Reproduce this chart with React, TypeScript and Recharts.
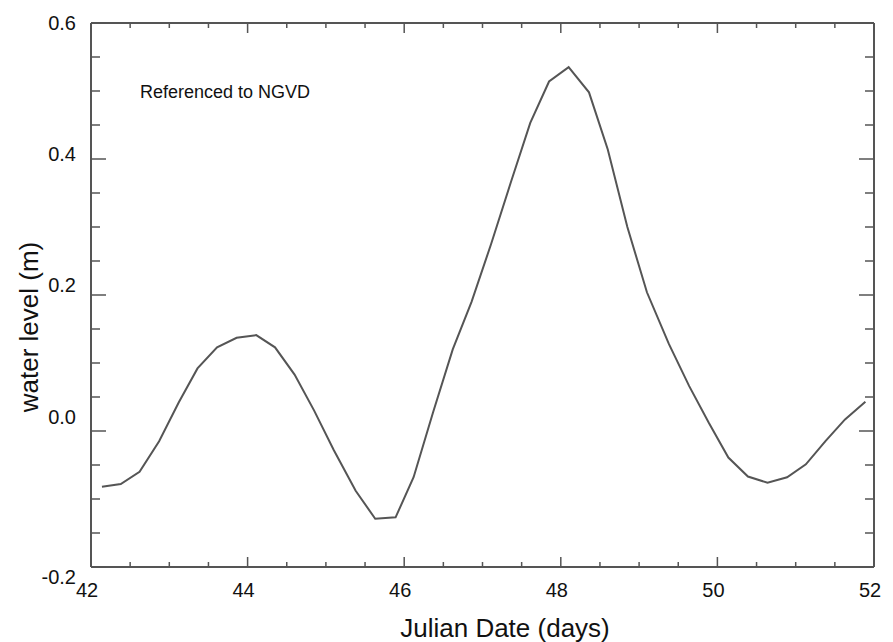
import { LineChart, Line, XAxis, YAxis, Customized } from 'recharts';

// Julian date (days) and water level (m)
const days = [
  42.14, 42.38, 42.62, 42.87, 43.12, 43.36, 43.61, 43.86, 44.11, 44.35,
  44.6, 44.85, 45.1, 45.38, 45.63, 45.89, 46.12, 46.37, 46.62, 46.86,
  47.11, 47.36, 47.61, 47.85, 48.1, 48.36, 48.6, 48.85, 49.1, 49.38,
  49.64, 49.89, 50.14, 50.39, 50.64, 50.89, 51.13, 51.38, 51.63, 51.89,
];
const waterLevel = [
  -0.082, -0.078, -0.06, -0.015, 0.042, 0.092, 0.123, 0.137, 0.141, 0.123,
  0.083, 0.03, -0.028, -0.088, -0.129, -0.127, -0.068, 0.028, 0.12, 0.19,
  0.275, 0.365, 0.453, 0.514, 0.535, 0.498, 0.414, 0.3, 0.204, 0.128,
  0.066, 0.012, -0.039, -0.067, -0.076, -0.068, -0.049, -0.015, 0.017, 0.043,
];

const xTicks = [
  42, 42.5, 43, 43.5, 44, 44.5, 45, 45.5, 46, 46.5, 47,
  47.5, 48, 48.5, 49, 49.5, 50, 50.5, 51, 51.5, 52,
];
const xLabels = [42, 44, 46, 48, 50, 52];
const yTicks = [
  -0.2, -0.15, -0.1, -0.05, 0, 0.05, 0.1, 0.15, 0.2,
  0.25, 0.3, 0.35, 0.4, 0.45, 0.5, 0.55, 0.6,
];
const yLabels = [-0.2, 0, 0.2, 0.4, 0.6];

const data = days.map((d, i) => ({ day: d, level: waterLevel[i] }));

const ink = '#555';
const font = '"Liberation Sans", Arial, Helvetica, sans-serif';
const isMajor = (v: number, list: number[]) => list.some((l) => Math.abs(l - v) < 1e-6);

function BottomTick(props: any) {
  const { x, y, payload } = props;
  const major = isMajor(payload.value, xLabels);
  return (
    <g>
      <line x1={x} x2={x} y1={y} y2={y - (major ? 10 : 5)} stroke={ink} strokeWidth={1.5} />
      {major && (
        <text x={x - 4} y={y + 30} textAnchor="middle" fontSize={20} fontFamily={font} fill="#111">
          {payload.value}
        </text>
      )}
    </g>
  );
}

function TopTick(props: any) {
  const { x, y, payload } = props;
  const major = isMajor(payload.value, xLabels);
  return <line x1={x} x2={x} y1={y} y2={y + (major ? 10 : 5)} stroke={ink} strokeWidth={1.5} />;
}

function LeftTick(props: any) {
  const { x, y, payload } = props;
  const v = payload.value;
  const major = isMajor(v, yLabels);
  // the scanned labels sit slightly off their ticks; -0.2 is pushed down clear of "42"
  const shift = v < -0.1 ? 10 : -(0.6 - v) * 24;
  return (
    <g>
      <line x1={x} x2={x + (major ? 15 : 9)} y1={y} y2={y} stroke={ink} strokeWidth={1.5} />
      {major && (
        <text x={76} y={y + shift + 7} textAnchor="end" fontSize={20} fontFamily={font} fill="#111">
          {v.toFixed(1)}
        </text>
      )}
    </g>
  );
}

function RightTick(props: any) {
  const { x, y, payload } = props;
  const major = isMajor(payload.value, yLabels);
  return <line x1={x} x2={x - (major ? 15 : 9)} y1={y} y2={y} stroke={ink} strokeWidth={1.5} />;
}

function Titles() {
  return (
    <g fontFamily={font} fill="#111">
      <text x={505} y={637} textAnchor="middle" fontSize={26}>
        Julian Date (days)
      </text>
      <text x={38} y={327} textAnchor="middle" fontSize={26} transform="rotate(-90, 38, 327)">
        water level (m)
      </text>
      <text x={140} y={98} fontSize={18}>
        Referenced to NGVD
      </text>
    </g>
  );
}

export default function App() {
  return (
    <div style={{ position: 'absolute', left: 0, top: 0, width: 893, height: 642, background: '#fff' }}>
      <LineChart width={893} height={642} data={data} margin={{ top: 22, right: 18, bottom: 0, left: 0 }}>
        <XAxis
          dataKey="day"
          type="number"
          domain={[42, 52]}
          ticks={xTicks}
          interval={0}
          allowDataOverflow
          height={75}
          tickSize={0}
          tickMargin={0}
          tick={<BottomTick />}
          axisLine={{ stroke: ink, strokeWidth: 2 }}
          tickLine={false}
        />
        <XAxis
          xAxisId="top"
          orientation="top"
          dataKey="day"
          type="number"
          domain={[42, 52]}
          ticks={xTicks}
          interval={0}
          allowDataOverflow
          height={1}
          tickSize={0}
          tickMargin={0}
          tick={<TopTick />}
          axisLine={{ stroke: ink, strokeWidth: 2 }}
          tickLine={false}
        />
        <YAxis
          type="number"
          domain={[-0.2, 0.6]}
          ticks={yTicks}
          interval={0}
          allowDataOverflow
          width={91}
          tickSize={0}
          tickMargin={0}
          tick={<LeftTick />}
          axisLine={{ stroke: ink, strokeWidth: 2 }}
          tickLine={false}
        />
        <YAxis
          yAxisId="right"
          orientation="right"
          type="number"
          domain={[-0.2, 0.6]}
          ticks={yTicks}
          interval={0}
          allowDataOverflow
          width={1}
          tickSize={0}
          tickMargin={0}
          tick={<RightTick />}
          axisLine={{ stroke: ink, strokeWidth: 2 }}
          tickLine={false}
        />
        <Line
          type="linear"
          dataKey="level"
          stroke={ink}
          strokeWidth={2}
          dot={false}
          activeDot={false}
          isAnimationActive={false}
        />
        {/* same series bound to the top/right axes so they get drawn; invisible */}
        <Line
          xAxisId="top"
          yAxisId="right"
          type="linear"
          dataKey="level"
          stroke="none"
          dot={false}
          activeDot={false}
          legendType="none"
          isAnimationActive={false}
        />
        <Customized component={<Titles />} />
      </LineChart>
    </div>
  );
}
